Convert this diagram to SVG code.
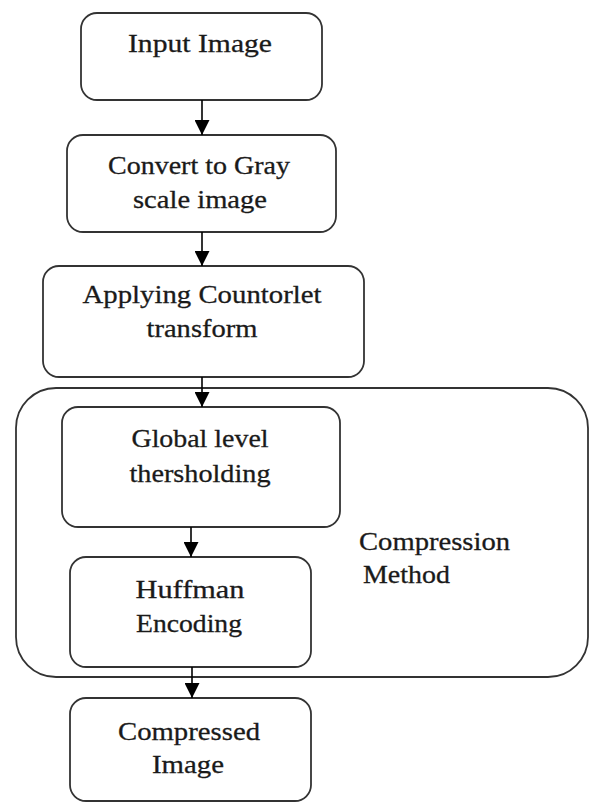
<svg xmlns="http://www.w3.org/2000/svg" width="589" height="804" viewBox="0 0 589 804">
<defs>
<style>
.box{fill:#fff;stroke:#333;stroke-width:1.8}
.t{font-family:"Liberation Serif","DejaVu Serif",serif;font-size:26px;fill:#1a1a1a;stroke:#1a1a1a;stroke-width:0.3;text-anchor:middle}
.tl{font-family:"Liberation Serif","DejaVu Serif",serif;font-size:26px;fill:#1a1a1a;stroke:#1a1a1a;stroke-width:0.3}
.c{stroke:#000;stroke-width:1.6;fill:none}
</style>
<marker id="ah" markerWidth="15" markerHeight="15" refX="15" refY="7.5" orient="auto" markerUnits="userSpaceOnUse">
<path d="M0,0 L15,7.5 L0,15 Z" fill="#000"/>
</marker>
</defs>
<rect width="589" height="804" fill="#fff"/>
<g id="compression-method">
<rect class="box" x="16" y="388" width="572" height="289" rx="40" ry="40"/>
<text class="tl" x="359" y="550" textLength="151" lengthAdjust="spacingAndGlyphs">Compression</text>
<text class="tl" x="363" y="583" textLength="87" lengthAdjust="spacingAndGlyphs">Method</text>
</g>
<g id="input-image">
<rect class="box" x="81" y="13" width="241" height="87" rx="16"/>
<text class="t" x="200" y="52" textLength="144" lengthAdjust="spacingAndGlyphs">Input Image</text>
</g>
<g id="gray-scale">
<rect class="box" x="67" y="135" width="269" height="97" rx="16"/>
<text class="t" x="199" y="174" textLength="182" lengthAdjust="spacingAndGlyphs">Convert to Gray</text>
<text class="t" x="200" y="208" textLength="134" lengthAdjust="spacingAndGlyphs">scale image</text>
</g>
<g id="countorlet">
<rect class="box" x="43" y="266" width="321" height="111" rx="16"/>
<text class="t" x="202" y="303" textLength="239" lengthAdjust="spacingAndGlyphs">Applying Countorlet</text>
<text class="t" x="202" y="337" textLength="111" lengthAdjust="spacingAndGlyphs">transform</text>
</g>
<g id="thresholding">
<rect class="box" x="62" y="407" width="278" height="120" rx="16"/>
<text class="t" x="200" y="447" textLength="137" lengthAdjust="spacingAndGlyphs">Global level</text>
<text class="t" x="200" y="482" textLength="141" lengthAdjust="spacingAndGlyphs">thersholding</text>
</g>
<g id="huffman">
<rect class="box" x="70" y="557" width="241" height="110" rx="16"/>
<text class="t" x="190" y="598" textLength="109" lengthAdjust="spacingAndGlyphs">Huffman</text>
<text class="t" x="189" y="632" textLength="106" lengthAdjust="spacingAndGlyphs">Encoding</text>
</g>
<g id="compressed-image">
<rect class="box" x="70" y="698" width="241" height="103" rx="16"/>
<text class="t" x="189" y="740" textLength="142" lengthAdjust="spacingAndGlyphs">Compressed</text>
<text class="t" x="188" y="773" textLength="72" lengthAdjust="spacingAndGlyphs">Image</text>
</g>
<g id="connectors">
<line class="c" x1="202" y1="100" x2="202" y2="135" marker-end="url(#ah)"/>
<line class="c" x1="202" y1="232" x2="202" y2="266" marker-end="url(#ah)"/>
<line class="c" x1="202" y1="377" x2="202" y2="407" marker-end="url(#ah)"/>
<line class="c" x1="191" y1="527" x2="191" y2="557" marker-end="url(#ah)"/>
<line class="c" x1="192" y1="667" x2="192" y2="698" marker-end="url(#ah)"/>
</g>
</svg>
